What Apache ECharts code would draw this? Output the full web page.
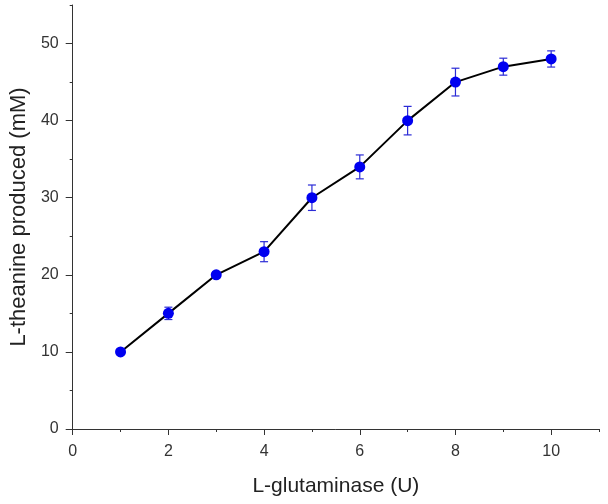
<!DOCTYPE html>
<html>
<head>
<meta charset="utf-8">
<script src="https://cdn.jsdelivr.net/npm/echarts@6/dist/echarts.min.js"></script>
<style>
  html, body { margin: 0; padding: 0; background: #fff; }
  #chart { width: 608px; height: 504px; }
</style>
</head>
<body>
<div id="chart"></div>
<script>
// L-glutaminase dose (U) vs L-theanine produced (mM)
const doses = [1, 2, 3, 4, 5, 6, 7, 8, 9, 10];
const theanine = [10, 15, 20, 23, 30, 34, 40, 45, 47, 48];
const errors = [0.2, 0.8, 0.4, 1.3, 1.65, 1.55, 1.85, 1.8, 1.1, 1.05];

const xMajorTicks = [0, 2, 4, 6, 8, 10];
const xMinorTicks = [1, 3, 5, 7, 9, 11];
const yMajorTicks = [0, 10, 20, 30, 40, 50];
const yMinorTicks = [5, 15, 25, 35, 45, 55];

const font = '"Liberation Sans", Arial, sans-serif';
const axisColor = '#333';

const chart = echarts.init(document.getElementById('chart'));

const points = doses.map((d, i) => [d, theanine[i]]);
const bars = doses.map((d, i) => [d, theanine[i] - errors[i], theanine[i] + errors[i]]);

chart.setOption({
  animation: false,
  grid: { left: 72, right: 9, top: 5, bottom: 75 },
  xAxis: [
    {
      type: 'value',
      min: 0,
      max: 11,
      interval: 1,
      position: 'bottom',
      name: 'L-glutaminase (U)',
      nameLocation: 'middle',
      nameGap: 47,
      nameTextStyle: { fontFamily: font, fontSize: 21, color: '#222' },
      axisLine: { lineStyle: { color: axisColor, width: 1 } },
      axisTick: { length: 6, customValues: xMajorTicks, lineStyle: { color: axisColor } },
      axisLabel: { customValues: xMajorTicks, margin: 15, fontFamily: font, fontSize: 16, color: '#333' },
      splitLine: { show: false }
    },
    {
      type: 'value',
      min: 0,
      max: 11,
      interval: 1,
      position: 'bottom',
      axisLine: { show: false },
      axisTick: { length: 3, customValues: xMinorTicks, lineStyle: { color: axisColor } },
      axisLabel: { show: false },
      splitLine: { show: false }
    }
  ],
  yAxis: [
    {
      type: 'value',
      min: 0,
      max: 55,
      interval: 5,
      position: 'left',
      name: 'L-theanine produced (mM)',
      nameLocation: 'middle',
      nameGap: 37,
      nameTextStyle: { fontFamily: font, fontSize: 22, color: '#222' },
      axisLine: { show: true, lineStyle: { color: axisColor, width: 1 } },
      axisTick: { show: true, length: 7, customValues: yMajorTicks, lineStyle: { color: axisColor } },
      axisLabel: { customValues: yMajorTicks, margin: 14, fontFamily: font, fontSize: 16, color: '#333' },
      splitLine: { show: false }
    },
    {
      type: 'value',
      min: 0,
      max: 55,
      interval: 5,
      position: 'left',
      axisLine: { show: false },
      axisTick: { show: true, length: 3, customValues: yMinorTicks, lineStyle: { color: axisColor } },
      axisLabel: { show: false },
      splitLine: { show: false }
    }
  ],
  series: [
    {
      type: 'custom',
      name: 'error',
      z: 1,
      data: bars,
      renderItem: function (params, api) {
        const x = api.value(0);
        const lo = api.coord([x, api.value(1)]);
        const hi = api.coord([x, api.value(2)]);
        const cap = 4;
        const style = { stroke: '#2b2bd6', lineWidth: 1.2 };
        return {
          type: 'group',
          children: [
            { type: 'line', shape: { x1: lo[0], y1: lo[1], x2: hi[0], y2: hi[1] }, style: style },
            { type: 'line', shape: { x1: hi[0] - cap, y1: hi[1], x2: hi[0] + cap, y2: hi[1] }, style: style },
            { type: 'line', shape: { x1: lo[0] - cap, y1: lo[1], x2: lo[0] + cap, y2: lo[1] }, style: style }
          ]
        };
      }
    },
    {
      type: 'line',
      name: 'L-theanine',
      z: 3,
      data: points,
      symbol: 'circle',
      symbolSize: 11,
      lineStyle: { color: '#000', width: 2 },
      itemStyle: { color: '#0000f0' }
    }
  ]
});
</script>
</body>
</html>
